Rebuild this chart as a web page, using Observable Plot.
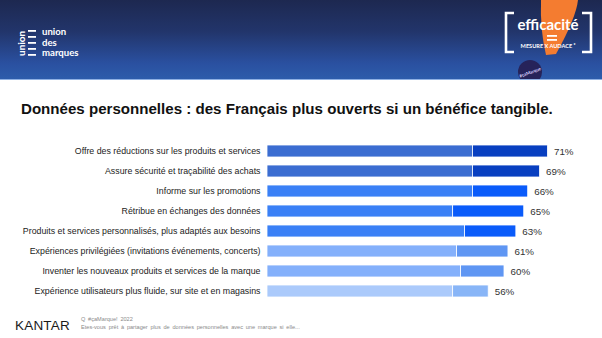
<!DOCTYPE html>
<html>
<head>
<meta charset="utf-8">
<script src="https://cdn.jsdelivr.net/npm/d3@7"></script>
<script src="https://cdn.jsdelivr.net/npm/@observablehq/plot@0.6"></script>
<style>
  html, body { margin: 0; padding: 0; background: #fff; }
  #page { position: relative; width: 602px; height: 338px; overflow: hidden; font-family: "Liberation Sans", Arial, sans-serif; }
  #header { position: absolute; left: 0; top: 0; width: 602px; height: 79px;
    background: linear-gradient(180deg, #1d2850 0%, #22356b 40%, #2a50a0 80%, #2d5cab 100%);
    border-bottom: 1px solid #8fb0e3; }
  .ul { position: absolute; left: 42px; color: #fff; font-family: Lato, "Open Sans", sans-serif; font-weight: 700; font-size: 9.6px; line-height: 9px; height: 9px; white-space: nowrap; }
  #title { position: absolute; left: 21px; top: 100px; font-weight: 700; font-size: 15.1px; color: #111; white-space: nowrap; }
  #chart { position: absolute; left: 0; top: 139px; }
  #kantar { position: absolute; left: 15px; top: 318px; font-size: 13.5px; color: #1a1a1a; letter-spacing: 0.2px; }
  .note { position: absolute; left: 81px; font-size: 5.6px; line-height: 6px; color: #8a8a8a; white-space: nowrap; word-spacing: 1.2px; }
</style>
</head>
<body>
<div id="page">
  <div id="header">
    <svg width="602" height="79" style="position:absolute;left:0;top:0">
      <text x="0" y="0" transform="translate(25,56) rotate(-90)" fill="#fff" font-family="Lato, sans-serif" font-weight="700" font-size="10">union</text>
      <rect x="28" y="30" width="8" height="1.8" fill="#fff"/>
      <rect x="28" y="36" width="8" height="1.8" fill="#fff"/>
      <rect x="28" y="42" width="8" height="1.8" fill="#fff"/>
      <rect x="28" y="48" width="8" height="1.8" fill="#fff"/>
      <rect x="28" y="54" width="8" height="1.8" fill="#fff"/>
      <path d="M541,0 L578,0 Q576,18 556,54 L546,55 Q540,30 541,0 Z" fill="#f47c30"/>
      <path d="M514,13 L506,13 L506,52 L514,52" fill="none" stroke="#fff" stroke-width="2.6"/>
      <path d="M582,13 L591,13 L591,52 L582,52" fill="none" stroke="#fff" stroke-width="2.6"/>
      <text x="548" y="30" text-anchor="middle" fill="#fff" font-family="Lato, sans-serif" font-weight="700" font-size="15">efficacité</text>
      <rect x="547" y="35" width="10" height="1.8" fill="#fff"/>
      <rect x="547" y="39" width="10" height="1.8" fill="#fff"/>
      <text x="548" y="48" text-anchor="middle" fill="#fff" font-family="Lato, sans-serif" font-weight="700" font-size="5.6">MESURE X AUDACE ²</text>
      <circle cx="530" cy="72" r="12" fill="#26235a"/>
      <text x="530" y="74" text-anchor="middle" fill="#d9d4ff" font-family="Lato, sans-serif" font-weight="700" font-size="4.5" transform="rotate(-20,530,72)">#çaMarque</text>
    </svg>
    <div class="ul" style="top:27px">union</div>
    <div class="ul" style="top:37.5px">des</div>
    <div class="ul" style="top:48px">marques</div>
  </div>
  <div id="title">Données personnelles : des Français plus ouverts si un bénéfice tangible.</div>
  <div id="chart"></div>
  <div id="kantar">KANTAR</div>
  <div class="note" style="top:316px">Q #çaMarque!  2022</div>
  <div class="note" style="top:324px">Etes-vous  prêt à partager  plus de données  personnelles  avec une  marque  si elle...</div>
</div>
<script>
const categories = [
  "Offre des réductions sur les produits et services",
  "Assure sécurité et traçabilité des achats",
  "Informe sur les promotions",
  "Rétribue en échanges des données",
  "Produits et services personnalisés, plus adaptés aux besoins",
  "Expériences privilégiées (invitations événements, concerts)",
  "Inventer les nouveaux produits et services de la marque",
  "Expérience utilisateurs plus fluide, sur site et en magasins"
];
const part1 = [52, 52, 52, 47, 50, 48, 49, 47];
const part2 = [19, 17, 14, 18, 13, 13, 11, 9];
const totals = [71, 69, 66, 65, 63, 61, 60, 56];
const tiers = [1, 1, 2, 2, 2, 3, 3, 4];

const colorKeys = ["1-1", "1-2", "2-1", "2-2", "3-1", "3-2", "4-1", "4-2"];
const colorRange = ["#3b6dd1", "#083fc0", "#3a80f6", "#0a5bfa", "#84b0fb", "#5f96f3", "#abcafb", "#88b5f7"];

const segments = categories.flatMap((c, i) => [
  {cat: c, value: part1[i], key: tiers[i] + "-1"},
  {cat: c, value: part2[i], key: tiers[i] + "-2"}
]);
const labels = categories.map((c, i) => ({cat: c, total: totals[i]}));

const chart = Plot.plot({
  width: 602,
  height: 163,
  marginLeft: 267,
  marginRight: 19,
  marginTop: 0,
  marginBottom: 0,
  style: {fontFamily: "Liberation Sans, Arial, sans-serif", fontSize: "8.8px", color: "#222", background: "transparent"},
  x: {domain: [0, 80], axis: null},
  y: {domain: categories, paddingInner: 0.4, paddingOuter: 0.2, label: null, tickSize: 0, tickPadding: 7},
  color: {type: "ordinal", domain: colorKeys, range: colorRange},
  marks: [
    Plot.barX(segments, Plot.stackX({x: "value", y: "cat", fill: "key", stroke: "white", strokeWidth: 0.8})),
    Plot.text(labels, {x: "total", y: "cat", text: d => d.total + "%", dx: 6, textAnchor: "start", fontSize: 9.8, fill: "#333"})
  ]
});
document.getElementById("chart").appendChild(chart);
</script>
</body>
</html>
